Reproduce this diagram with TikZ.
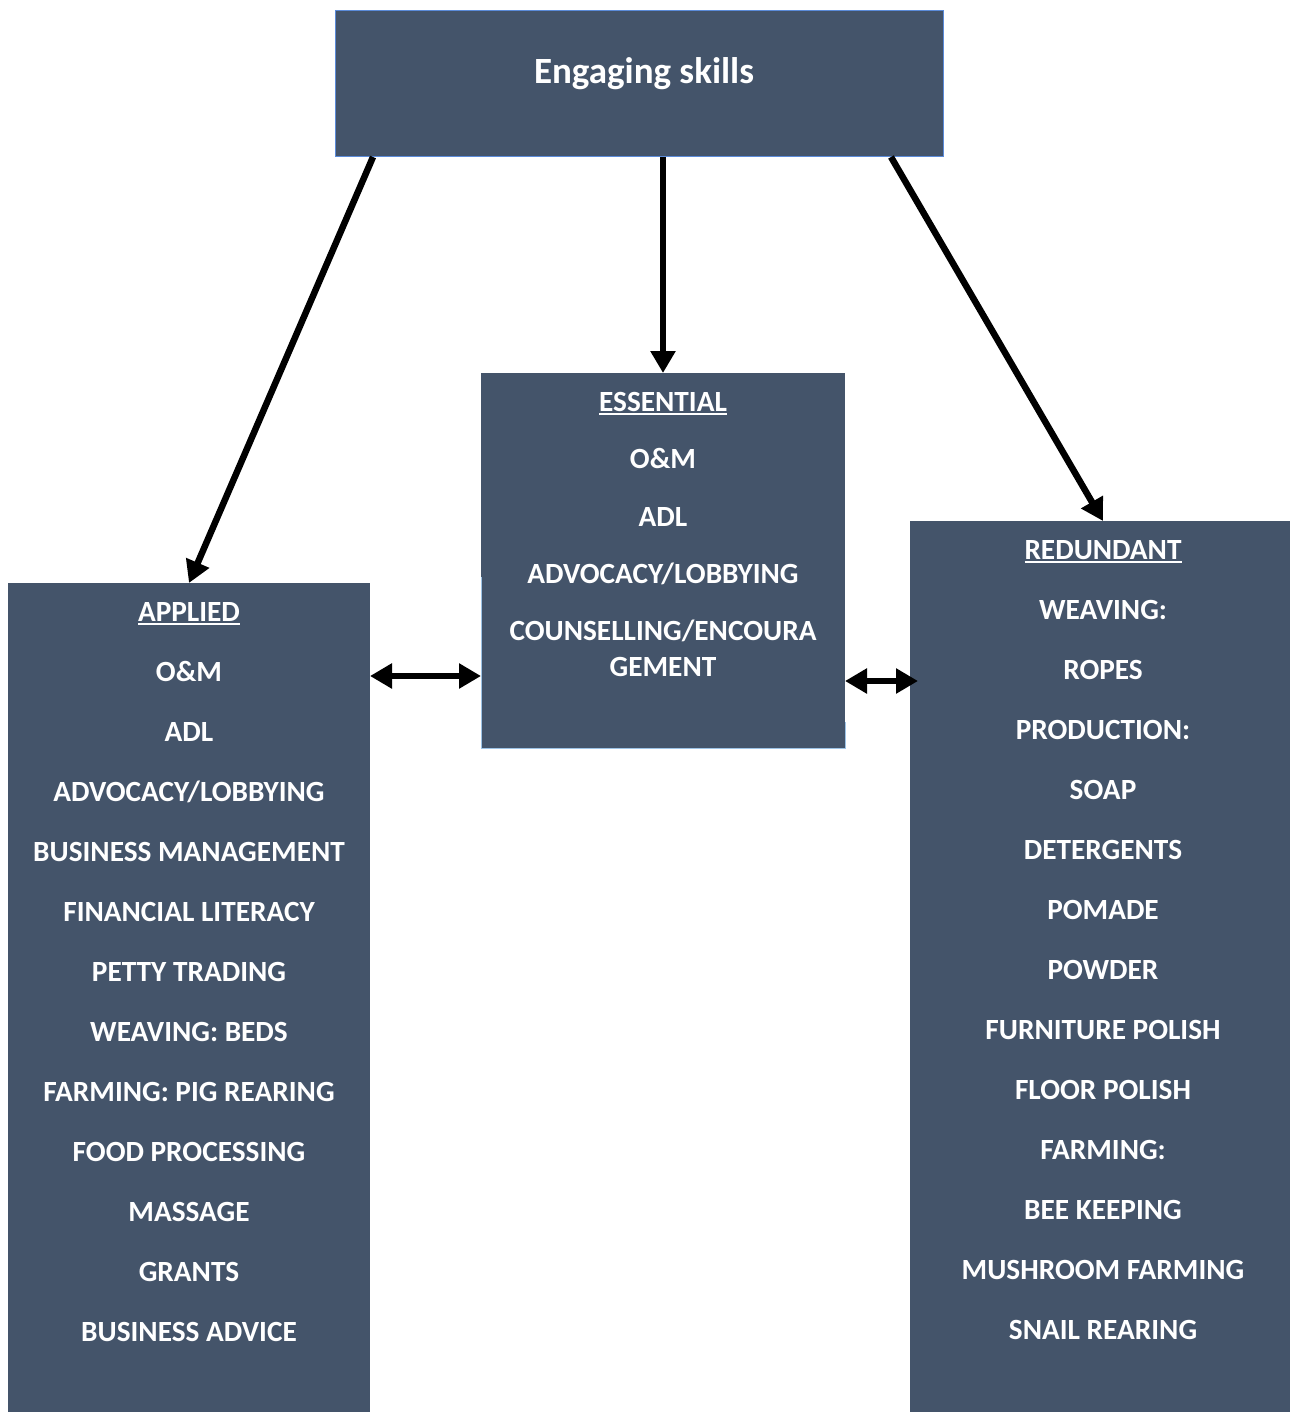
\documentclass[tikz,border=0pt]{standalone}
\usepackage{fontspec}
\setmainfont{Carlito}
\usetikzlibrary{arrows.meta,calc}
\definecolor{boxfill}{HTML}{44546A}
\definecolor{topedge}{HTML}{5B8BD9}
\definecolor{lightedge}{HTML}{9DC3E6}
\newcommand\ulword[1]{\setbox0\hbox{#1}\rlap{\rule[-4pt]{\wd0}{1.8pt}}\box0}
\begin{document}
\begin{tikzpicture}[x=1pt,y=-1pt,
  skillbox/.style={fill=boxfill, inner sep=0pt, outer sep=0pt},
  itemtext/.style={text=white, font=\fontsize{29.3}{35}\selectfont\bfseries, anchor=base, inner sep=0pt, align=center},
  titletext/.style={text=white, font=\fontsize{37}{44}\selectfont\bfseries, anchor=base, inner sep=0pt},
  link/.style={line width=6.5pt, -{Triangle[length=22pt,width=24pt]}},
  dlink/.style={line width=6.5pt, {Triangle[length=22pt,width=24pt]}-{Triangle[length=22pt,width=24pt]}}]
\useasboundingbox (0,0) rectangle (1290,1412);
% boxes
\node[skillbox, draw=topedge, line width=1pt, minimum width=608pt, minimum height=146pt] (top) at (639,84) {};
\node[skillbox, minimum width=364pt, minimum height=375pt] (essential) at (663,560.5) {};
\node[skillbox, minimum width=362pt, minimum height=829pt] (applied) at (189,997.5) {};
\node[skillbox, minimum width=380pt, minimum height=891pt] (redundant) at (1100,966.5) {};
\draw[lightedge, line width=1pt] (481,577) -- (481,748) -- (845,748) -- (845,722);
% texts
\node[titletext] (ttl) at (644,84) {Engaging skills};
\node[itemtext] (ap0) at (189,621) {\ulword{APPLIED}};
\foreach \t [count=\i] in {O\&M, ADL, ADVOCACY/LOBBYING, BUSINESS MANAGEMENT, FINANCIAL LITERACY, PETTY TRADING, WEAVING: BEDS, FARMING: PIG REARING, FOOD PROCESSING, MASSAGE, GRANTS, BUSINESS ADVICE}
  \node[itemtext] (ap\i) at (189,621+60*\i) {\t};
\node[itemtext] (es0) at (663,411) {\ulword{ESSENTIAL}};
\node[itemtext] (es1) at (663,468) {O\&M};
\node[itemtext] (es2) at (663,526) {ADL};
\node[itemtext] (es3) at (663,583) {ADVOCACY/LOBBYING};
\node[itemtext] (es4) at (663,640) {COUNSELLING/ENCOURA};
\node[itemtext] (es5) at (663,676) {GEMENT};
\node[itemtext] (rd0) at (1103,559) {\ulword{REDUNDANT}};
\foreach \t [count=\i] in {WEAVING:, ROPES, PRODUCTION:, SOAP, DETERGENTS, POMADE, POWDER, FURNITURE POLISH, FLOOR POLISH, FARMING:, BEE KEEPING, MUSHROOM FARMING, SNAIL REARING}
  \node[itemtext] (rd\i) at (1103,559+60*\i) {\t};
% connectors
\coordinate (d1) at (0,676);
\coordinate (d2) at (0,681);
\draw[link] ([xshift=38pt]top.south west) -- (applied.north);
\draw[link] (top.south -| essential.north) -- (essential.north);
\draw[link] ([xshift=-52pt]top.south east) -- ([xshift=3pt]redundant.north);
\draw[dlink] (applied.east |- d1) -- (essential.west |- d1);
\draw[dlink] (essential.east |- d2) -- ([xshift=8pt]redundant.west |- d2);
\end{tikzpicture}
\end{document}
